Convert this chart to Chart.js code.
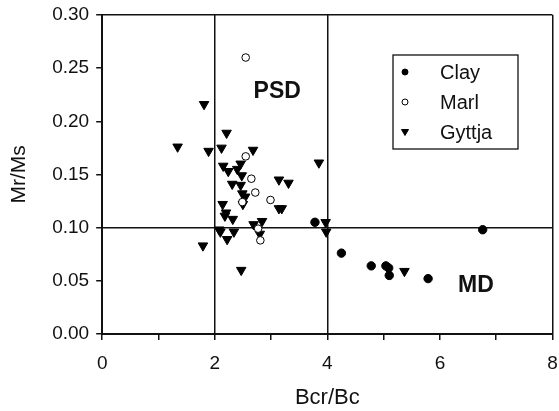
<!DOCTYPE html>
<html>
<head>
<meta charset="utf-8">
<script src="https://cdn.jsdelivr.net/npm/chart.js@4.4.0/dist/chart.umd.min.js"></script>
<style>
  html, body { margin: 0; padding: 0; background: #fff; }
  #wrap { width: 559px; height: 411px; }
</style>
</head>
<body>
<div id="wrap"><canvas id="chart" width="559" height="411"></canvas></div>
<script>
// Bcr/Bc (x) vs Mr/Ms (y)
var clayX = [3.78, 4.25, 4.78, 5.04, 5.09, 5.10, 5.79, 6.76];
var clayY = [0.105, 0.076, 0.064, 0.064, 0.062, 0.055, 0.052, 0.098];

var marlX = [2.55, 2.55, 2.65, 2.72, 2.49, 2.99, 2.77, 2.81];
var marlY = [0.260, 0.167, 0.146, 0.133, 0.124, 0.126, 0.099, 0.088];

var gyttjaX = [1.81, 2.21, 1.34, 1.89, 2.12, 2.68, 2.46, 3.85, 2.15, 2.24,
               2.40, 2.48, 3.14, 3.31, 2.31, 2.46, 2.49, 2.54, 2.50, 2.14,
               3.14, 3.19, 2.20, 2.18, 2.32, 2.69, 2.84, 2.80, 2.08, 2.10,
               2.34, 2.22, 1.79, 2.47, 3.97, 3.98, 5.37];
var gyttjaY = [0.216, 0.189, 0.176, 0.172, 0.175, 0.173, 0.160, 0.161, 0.158, 0.153,
               0.155, 0.149, 0.145, 0.142, 0.141, 0.140, 0.132, 0.129, 0.122, 0.122,
               0.118, 0.118, 0.114, 0.111, 0.108, 0.103, 0.106, 0.094, 0.098, 0.096,
               0.096, 0.089, 0.083, 0.060, 0.105, 0.096, 0.059];

var xTicks = [0, 2, 4, 6, 8];
var xLines = [2, 4, 8];
var yLines = [0.10, 0.30];

function toPoints(xs, ys) {
    let pts = [];
    for (let i = 0; i < xs.length; i++) {
        pts.push({ x: xs[i], y: ys[i] });
    }
    return pts;
}

var FONT = "'Liberation Sans', Arial, Helvetica, sans-serif";
var INK = '#111';

// legend box + region labels
var extras = {
    id: 'extras',
    afterDatasetsDraw: function(chart) {
        const ctx = chart.ctx;
        const xs = chart.scales.x, ys = chart.scales.y;
        ctx.save();
        ctx.fillStyle = INK;
        ctx.font = 'bold 23px ' + FONT;
        ctx.textAlign = 'center';
        ctx.textBaseline = 'middle';
        ctx.fillText('PSD', xs.getPixelForValue(3.11), ys.getPixelForValue(0.228));
        ctx.fillText('MD', xs.getPixelForValue(6.64), ys.getPixelForValue(0.045));

        // legend
        const bx = 393, by = 55, bw = 125, bh = 94;
        ctx.fillStyle = '#fff';
        ctx.fillRect(bx, by, bw, bh);
        ctx.strokeStyle = INK;
        ctx.lineWidth = 1.3;
        ctx.strokeRect(bx, by, bw, bh);
        ctx.font = '20px ' + FONT;
        ctx.textAlign = 'left';
        chart.data.datasets.forEach(function(ds, i) {
            const cy = by + 17 + i * 30;
            const cx = bx + 12;
            ctx.fillStyle = ds.backgroundColor;
            ctx.strokeStyle = ds.borderColor;
            ctx.lineWidth = 1;
            ctx.beginPath();
            if (ds.pointStyle === 'triangle') {
                ctx.moveTo(cx - 3.5, cy - 2.5);
                ctx.lineTo(cx + 3.5, cy - 2.5);
                ctx.lineTo(cx, cy + 3.5);
                ctx.closePath();
            } else {
                ctx.arc(cx, cy, 3, 0, Math.PI * 2);
            }
            ctx.fill();
            ctx.stroke();
            ctx.fillStyle = INK;
            ctx.fillText(ds.label, bx + 47, cy + 1);
        });
        ctx.restore();
    }
};

var ctx = document.getElementById('chart').getContext('2d');
new Chart(ctx, {
    type: 'scatter',
    data: {
        datasets: [{
            label: 'Clay',
            data: toPoints(clayX, clayY),
            pointStyle: 'circle',
            pointRadius: 4.2,
            backgroundColor: '#000',
            borderColor: '#000',
            borderWidth: 1
        }, {
            label: 'Marl',
            data: toPoints(marlX, marlY),
            pointStyle: 'circle',
            pointRadius: 3.8,
            backgroundColor: '#fff',
            borderColor: '#000',
            borderWidth: 1
        }, {
            label: 'Gyttja',
            data: toPoints(gyttjaX, gyttjaY),
            pointStyle: 'triangle',
            pointRotation: 180,
            pointRadius: 5.5,
            backgroundColor: '#000',
            borderColor: '#000',
            borderWidth: 1
        }]
    },
    options: {
        responsive: false,
        animation: false,
        events: [],
        layout: { padding: { top: 15, right: 6, bottom: 0, left: 7 } },
        plugins: {
            legend: { display: false },
            tooltip: { enabled: false }
        },
        scales: {
            x: {
                type: 'linear',
                min: 0,
                max: 8,
                afterFit: function(scale) { scale.paddingRight = 0; },
                ticks: {
                    stepSize: 1,
                    color: INK,
                    font: { family: FONT, size: 19 },
                    padding: 12,
                    maxRotation: 0,
                    callback: function(v) { return xTicks.indexOf(v) >= 0 ? String(v) : ''; }
                },
                grid: {
                    color: function(c) { return c.tick && xLines.indexOf(c.tick.value) >= 0 ? INK : 'rgba(0,0,0,0)'; },
                    tickColor: INK,
                    lineWidth: 1.5,
                    tickLength: 6
                },
                border: { color: INK, width: 2 },
                title: {
                    display: true,
                    text: 'Bcr/Bc',
                    color: INK,
                    font: { family: FONT, size: 22, lineHeight: 1.15 },
                    padding: { top: -1, bottom: 0 }
                }
            },
            y: {
                type: 'linear',
                min: 0,
                max: 0.3,
                afterFit: function(scale) { scale.paddingTop = 0; },
                ticks: {
                    stepSize: 0.05,
                    color: INK,
                    font: { family: FONT, size: 19 },
                    padding: 7,
                    callback: function(v) { return v.toFixed(2); }
                },
                grid: {
                    color: function(c) {
                        if (!c.tick) return 'rgba(0,0,0,0)';
                        return yLines.some(function(l) { return Math.abs(l - c.tick.value) < 1e-6; }) ? INK : 'rgba(0,0,0,0)';
                    },
                    tickColor: INK,
                    lineWidth: 1.5,
                    tickLength: 6
                },
                border: { color: INK, width: 2 },
                title: {
                    display: true,
                    text: 'Mr/Ms',
                    color: INK,
                    font: { family: FONT, size: 21 },
                    padding: { top: 0, bottom: 13 }
                }
            }
        }
    },
    plugins: [extras]
});
</script>
</body>
</html>
